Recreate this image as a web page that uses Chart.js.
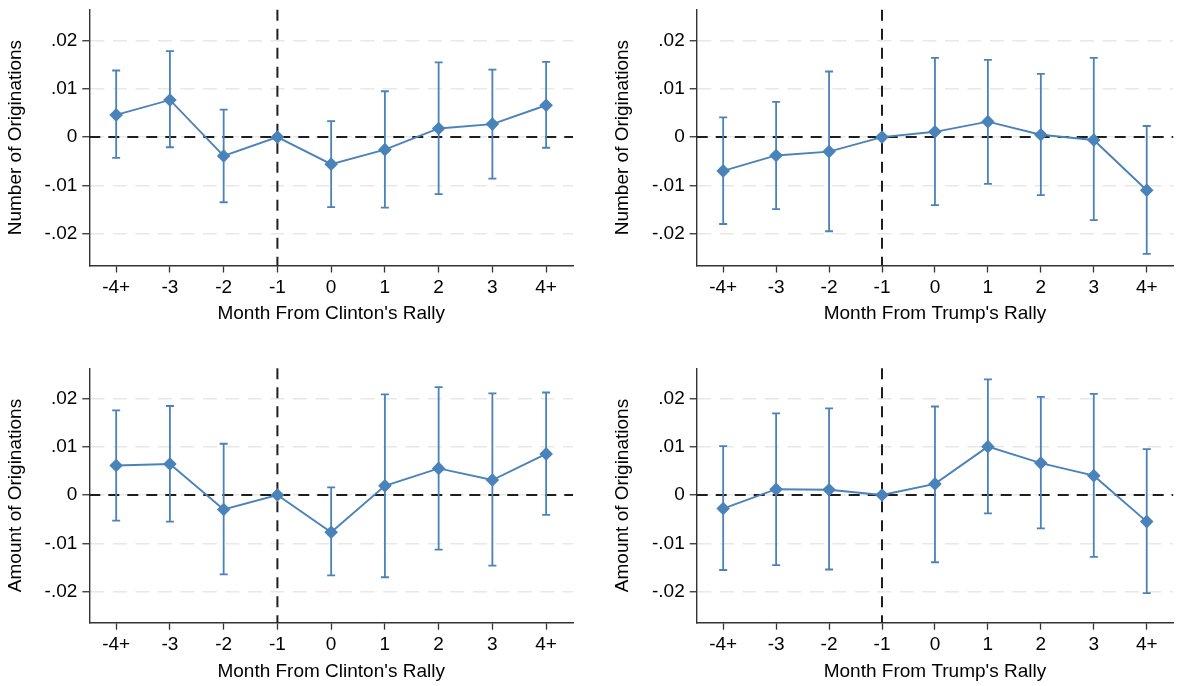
<!DOCTYPE html>
<html>
<head>
<meta charset="utf-8">
<script src="https://cdn.jsdelivr.net/npm/chart.js@4.4.1/dist/chart.umd.min.js"></script>
<style>
  html, body { margin: 0; padding: 0; background: #fff; overflow: hidden; }
  #wrap { position: relative; width: 1180px; height: 686px; overflow: hidden; }
  canvas { position: absolute; }
</style>
</head>
<body>
<div id="wrap">
  <canvas id="numClinton" width="590" height="340" style="left:0;top:0"></canvas>
  <canvas id="numTrump" width="573" height="340" style="left:607px;top:0"></canvas>
  <canvas id="amtClinton" width="590" height="340" style="left:0;top:358px"></canvas>
  <canvas id="amtTrump" width="573" height="340" style="left:607px;top:358px"></canvas>
</div>
<script>
// categories and ticks
const months = ['-4+', '-3', '-2', '-1', '0', '1', '2', '3', '4+'];
const yTickValues = [-0.02, -0.01, 0, 0.01, 0.02];
const yTickLabels = ['-.02', '-.01', '0', '.01', '.02'];

// Number of originations, Clinton rally
const numClintonEst = [0.0046, 0.0077, -0.0039, 0, -0.0056, -0.0026, 0.0018, 0.0027, 0.0066];
const numClintonLo = [-0.0043, -0.0021, -0.0135, null, -0.0145, -0.0146, -0.0118, -0.0086, -0.0022];
const numClintonHi = [0.0138, 0.0178, 0.0057, null, 0.0033, 0.0095, 0.0155, 0.0140, 0.0156];

// Number of originations, Trump rally
const numTrumpEst = [-0.0070, -0.0038, -0.0030, 0, 0.0011, 0.0032, 0.0005, -0.0006, -0.0110];
const numTrumpLo = [-0.0180, -0.0149, -0.0195, null, -0.0141, -0.0097, -0.0120, -0.0172, -0.0242];
const numTrumpHi = [0.0041, 0.0073, 0.0136, null, 0.0164, 0.0160, 0.0131, 0.0164, 0.0023];

// Amount of originations, Clinton rally
const amtClintonEst = [0.0061, 0.0064, -0.0030, 0, -0.0077, 0.0019, 0.0055, 0.0031, 0.0085];
const amtClintonLo = [-0.0053, -0.0055, -0.0164, null, -0.0166, -0.0170, -0.0113, -0.0146, -0.0041];
const amtClintonHi = [0.0175, 0.0184, 0.0106, null, 0.0016, 0.0208, 0.0223, 0.0210, 0.0212];

// Amount of originations, Trump rally
const amtTrumpEst = [-0.0028, 0.0012, 0.0011, 0, 0.0023, 0.0100, 0.0066, 0.0040, -0.0055];
const amtTrumpLo = [-0.0155, -0.0145, -0.0154, null, -0.0139, -0.0038, -0.0069, -0.0128, -0.0203];
const amtTrumpHi = [0.0101, 0.0169, 0.0179, null, 0.0183, 0.0239, 0.0203, 0.0209, 0.0095];

const BLUE = '#4a82ba';
const FONT = 'Liberation Sans, Arial, Helvetica, sans-serif';

// dashed zero line + vertical line at month -1, drawn under the series
const refLines = {
  id: 'refLines',
  beforeDatasetsDraw(chart) {
    const { ctx, chartArea: a, scales: { x, y } } = chart;
    const y0 = y.getPixelForValue(0);
    const xr = x.getPixelForValue(3);
    ctx.save();
    ctx.strokeStyle = '#1e1e1e';
    ctx.lineWidth = 2;
    ctx.setLineDash([11, 8]);
    ctx.beginPath();
    ctx.moveTo(a.left, y0); ctx.lineTo(a.right, y0);
    ctx.moveTo(xr, a.top); ctx.lineTo(xr, a.bottom);
    ctx.stroke();
    ctx.restore();
  }
};

// confidence interval bars
const errorBars = {
  id: 'errorBars',
  beforeDatasetsDraw(chart, args, opts) {
    const { ctx, scales: { x, y } } = chart;
    ctx.save();
    ctx.strokeStyle = BLUE;
    ctx.lineWidth = 1.8;
    opts.lo.forEach((lo, i) => {
      const hi = opts.hi[i];
      if (lo == null || hi == null) return;
      const px = x.getPixelForValue(i);
      const yl = y.getPixelForValue(lo), yh = y.getPixelForValue(hi);
      ctx.beginPath();
      ctx.moveTo(px, yl); ctx.lineTo(px, yh);
      ctx.moveTo(px - 4, yl); ctx.lineTo(px + 4, yl);
      ctx.moveTo(px - 4, yh); ctx.lineTo(px + 4, yh);
      ctx.stroke();
    });
    ctx.restore();
  }
};

function makePanel(id, est, lo, hi, yTitle, xTitle, geo) {
  new Chart(document.getElementById(id), {
    type: 'line',
    data: {
      labels: months,
      datasets: [{
        data: est,
        borderColor: BLUE,
        backgroundColor: BLUE,
        borderWidth: 1.9,
        pointStyle: 'rectRot',
        pointRadius: 6.8,
        pointBorderWidth: 0,
        tension: 0
      }]
    },
    options: {
      responsive: false,
      animation: false,
      events: [],
      layout: { padding: { top: geo.top, right: geo.right, bottom: 0, left: 0 } },
      plugins: {
        legend: { display: false },
        tooltip: { enabled: false },
        errorBars: { lo, hi }
      },
      scales: {
        x: {
          type: 'category',
          offset: true,
          grid: { offset: false, drawOnChartArea: false, tickLength: 7, tickColor: '#333', tickWidth: 1.3 },
          border: { color: '#333', width: 1.4 },
          ticks: { color: '#000', font: { family: FONT, size: 19 }, padding: 4, maxRotation: 0, autoSkip: false },
          title: { display: true, text: xTitle, color: '#000', font: { family: FONT, size: 19 }, padding: { top: 0, bottom: 15 } },
          afterFit(s) { s.height = geo.axisH; s.paddingLeft = 0; s.paddingRight = 0; }
        },
        y: {
          min: geo.min,
          max: geo.max,
          afterBuildTicks(s) { s.ticks = yTickValues.map(v => ({ value: v })); },
          grid: { color: '#e8e8e8', lineWidth: 1.5, tickLength: 7, tickColor: '#333', tickWidth: 1.3 },
          border: { color: '#333', width: 1.4, dash: [14, 8.5] },
          ticks: {
            color: '#000',
            font: { family: FONT, size: 19 },
            padding: 5,
            callback: (v) => yTickLabels[yTickValues.indexOf(v)]
          },
          title: { display: true, text: yTitle, color: '#000', font: { family: FONT, size: 19 }, padding: { top: 4.5, bottom: 0 } },
          afterFit(s) { s.width = geo.axisW; s.paddingTop = 0; s.paddingBottom = 0; }
        }
      }
    },
    plugins: [refLines, errorBars]
  });
}

makePanel('numClinton', numClintonEst, numClintonLo, numClintonHi,
  'Number of Originations', "Month From Clinton's Rally",
  { top: 9.7, right: 17, axisW: 89.3, axisH: 74.5, min: -0.0266, max: 0.0264 });
makePanel('numTrump', numTrumpEst, numTrumpLo, numTrumpHi,
  'Number of Originations', "Month From Trump's Rally",
  { top: 9.7, right: 0, axisW: 89.7, axisH: 74.5, min: -0.0266, max: 0.0264 });
makePanel('amtClinton', amtClintonEst, amtClintonLo, amtClintonHi,
  'Amount of Originations', "Month From Clinton's Rally",
  { top: 10.3, right: 17, axisW: 89.3, axisH: 75.3, min: -0.0264, max: 0.0262 });
makePanel('amtTrump', amtTrumpEst, amtTrumpLo, amtTrumpHi,
  'Amount of Originations', "Month From Trump's Rally",
  { top: 10.3, right: 0, axisW: 89.7, axisH: 75.3, min: -0.0264, max: 0.0262 });
</script>
</body>
</html>
